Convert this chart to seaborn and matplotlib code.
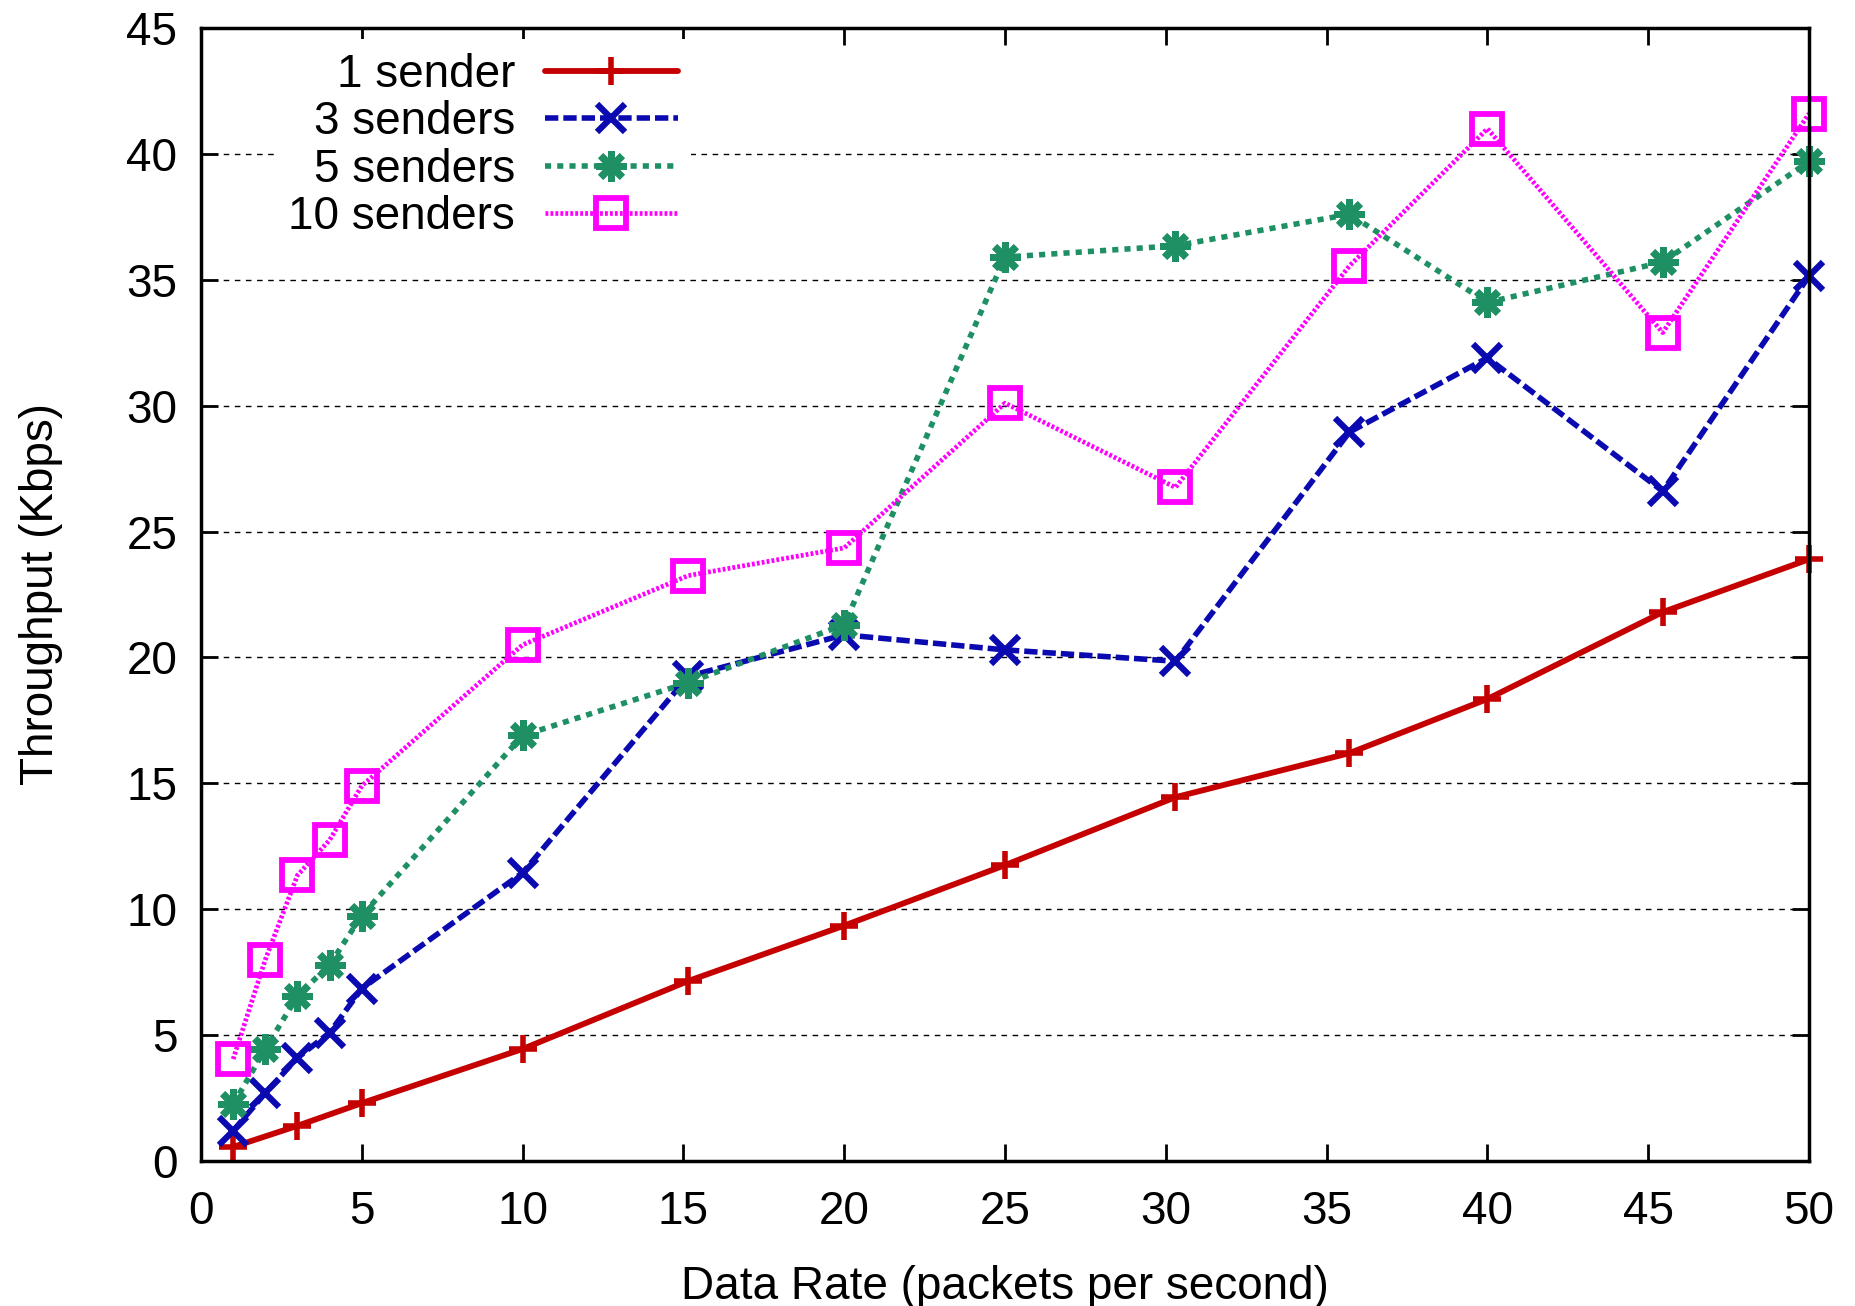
import matplotlib
matplotlib.use("Agg")
import matplotlib.pyplot as plt
import seaborn as sns
import numpy as np
import pandas as pd

# Data rates (packets per second)
x_one = [1, 3, 5, 10, 15.15, 20, 25, 30.3, 35.71, 40, 45.45, 50]
x_multi = [1, 2, 3, 4, 5, 10, 15.15, 20, 25, 30.3, 35.71, 40, 45.45, 50]

y_1_sender = [0.56, 1.4, 2.3, 4.45, 7.15, 9.35, 11.75, 14.45, 16.2, 18.35, 21.8, 23.9]
y_3_senders = [1.2, 2.7, 4.1, 5.1, 6.85, 11.45, 19.25, 20.9, 20.3, 19.85, 28.95, 31.9, 26.6, 35.15]
y_5_senders = [2.25, 4.45, 6.55, 7.8, 9.75, 16.9, 19.0, 21.3, 35.9, 36.35, 37.6, 34.1, 35.7, 39.7]
y_10_senders = [4.05, 8.0, 11.35, 12.75, 14.9, 20.5, 23.25, 24.35, 30.1, 26.75, 35.55, 41.0, 32.9, 41.6]

labels = ["1 sender", "3 senders", "5 senders", "10 senders"]
colors = ["#c40000", "#0a0ab0", "#1e9064", "#ff00ff"]

sns.set_style("ticks")
plt.rcParams['font.family'] = ['Liberation Sans', 'DejaVu Sans']
for k in ["text.color", "axes.labelcolor", "xtick.color", "ytick.color", "axes.edgecolor"]:
    plt.rcParams[k] = "black"

FS = 33

fig = plt.figure(figsize=(18.56, 13.06), dpi=100)
ax = fig.add_axes([0.1083, 0.111, 0.8664, 0.8676])

series = [
    (x_one, y_1_sender, dict(marker="+", ms=20, mew=4.0, linestyle="-", lw=4.2)),
    (x_multi, y_3_senders, dict(marker="x", ms=20, mew=4.5, linestyle=(0, (2.4, 0.9)), lw=4.0)),
    (x_multi, y_5_senders, dict(marker=(8, 2, 0), ms=22, mew=5.0, linestyle=(0, (1.1, 1.1)), lw=4.0)),
    (x_multi, y_10_senders, dict(marker="s", ms=22, mew=4.2, mfc="none", linestyle=(0, (0.6, 0.45)), lw=3.4)),
]

for (xs, ys, st), lab, col in zip(series, labels, colors):
    df = pd.DataFrame({"x": xs, "y": ys})
    sns.lineplot(data=df, x="x", y="y", ax=ax, color=col, label=lab,
                 sort=False, errorbar=None, mec=col, clip_on=False, **st)

ax.set_xlim(0, 50)
ax.set_ylim(0, 45)
ax.set_xticks(np.arange(0, 51, 5))
ax.set_yticks(np.arange(0, 46, 5))
ax.tick_params(direction="in", length=12, width=2, labelsize=FS,
               top=True, right=True)
ax.tick_params(axis="x", pad=21)
ax.tick_params(axis="y", pad=17)
for sp in ax.spines.values():
    sp.set_linewidth(2.5)
    sp.set_color("black")
    sp.set_visible(True)

ax.yaxis.grid(True, color="black", linestyle=(0, (4, 4)), linewidth=1.0)
ax.xaxis.grid(False)
ax.set_axisbelow(True)

ax.set_xlabel("Data Rate (packets per second)", fontsize=FS, labelpad=22)
ax.set_ylabel("Throughput (Kbps)", fontsize=FS, labelpad=46)

leg = ax.legend(loc="upper right", bbox_to_anchor=(0.305, 0.99),
                markerfirst=False, fontsize=FS, handlelength=2.9,
                labelspacing=0.075, borderpad=0.3, borderaxespad=0,
                handletextpad=0.65, frameon=True, fancybox=False)
leg.get_frame().set_facecolor("white")
leg.get_frame().set_edgecolor("none")
leg.get_frame().set_alpha(1.0)

fig.savefig("out.png", dpi=100)
